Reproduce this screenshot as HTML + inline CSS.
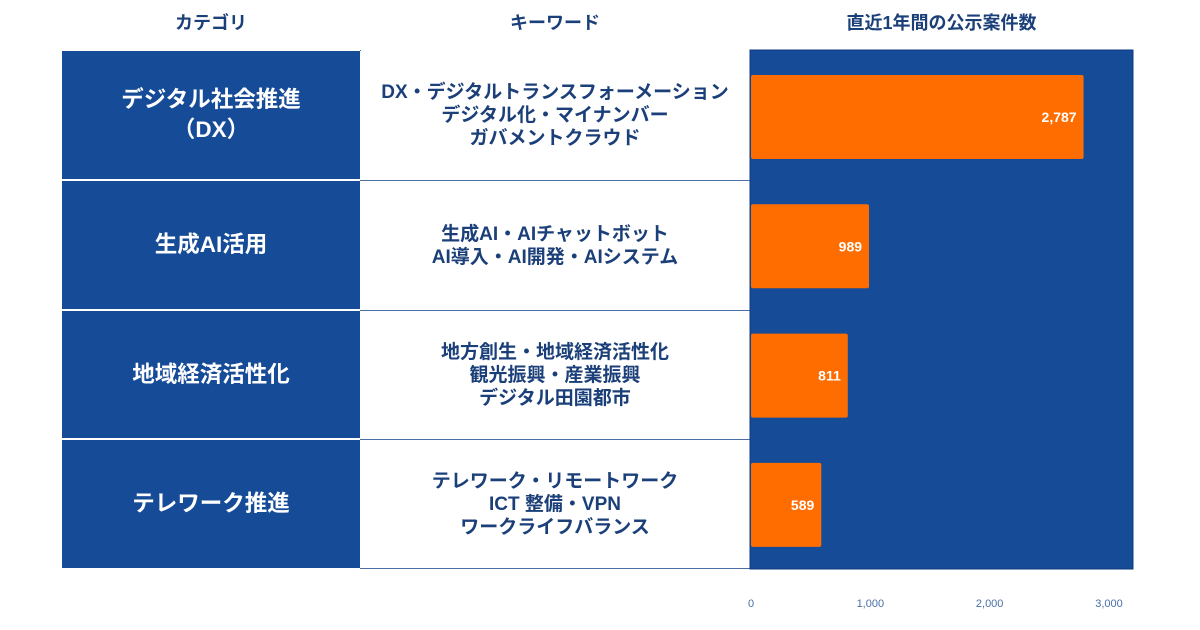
<!DOCTYPE html>
<html><head><meta charset="utf-8">
<style>
body{margin:0;width:1200px;height:630px;background:#fff;position:relative;overflow:hidden;font-family:"Liberation Sans","Noto Sans CJK JP",sans-serif;}
.abs{position:absolute;}
.hdr{top:10px;height:26px;font-size:18px;font-weight:bold;color:#1b3f78;text-align:center;line-height:26px;}
.cat{left:62px;width:298px;background:#164b97;color:#fff;font-weight:bold;font-size:22.5px;display:flex;align-items:center;justify-content:center;text-align:center;line-height:30px;}
.kw{left:360px;width:390px;background:#fff;color:#1b3f78;font-weight:bold;font-size:19px;display:flex;align-items:center;justify-content:center;text-align:center;line-height:23px;border-bottom:1px solid #4a6fa5;box-sizing:border-box;}
</style></head><body>
<div class="abs hdr" style="left:62px;width:298px">カテゴリ</div>
<div class="abs hdr" style="left:360px;width:390px">キーワード</div>
<div class="abs hdr" style="left:750px;width:383px">直近1年間の公示案件数</div>

<div class="abs cat" style="top:51px;height:128px">デジタル社会推進<br>（DX）</div>
<div class="abs cat" style="top:181px;height:128px">生成AI活用</div>
<div class="abs cat" style="top:311px;height:127px">地域経済活性化</div>
<div class="abs cat" style="top:440px;height:128px">テレワーク推進</div>

<div class="abs" style="left:360px;top:50px;width:390px;height:519px;border-left:1px solid #4a6fa5;box-sizing:border-box;"></div>
<div class="abs kw" style="top:51px;height:130px">DX・デジタルトランスフォーメーション<br>デジタル化・マイナンバー<br>ガバメントクラウド</div>
<div class="abs kw" style="top:181px;height:130px">生成AI・AIチャットボット<br>AI導入・AI開発・AIシステム</div>
<div class="abs kw" style="top:311px;height:129px">地方創生・地域経済活性化<br>観光振興・産業振興<br>デジタル田園都市</div>
<div class="abs kw" style="top:440px;height:129px">テレワーク・リモートワーク<br>ICT 整備・VPN<br>ワークライフバランス</div>

<svg class="abs" style="left:0;top:0" width="1200" height="630" id="chart">
<rect x="750" y="50" width="383" height="519" fill="#164b97" stroke="#0e3a80"/>
</svg>
<script>
const categories=["DX","AI","地域","テレワーク"];
const values=[2787,989,811,589];
const labels=["2,787","989","811","589"];
const ticks=[0,1000,2000,3000];
const tickLabels=["0","1,000","2,000","3,000"];
const svg=document.getElementById('chart');
const NS="http://www.w3.org/2000/svg";
const x=v=>751+v*(358/3000);
const rowTop=i=>75+i*129.3;
values.forEach((v,i)=>{
 const r=document.createElementNS(NS,'rect');
 r.setAttribute('x',751);r.setAttribute('y',rowTop(i));
 r.setAttribute('width',x(v)-751);r.setAttribute('height',84);
 r.setAttribute('rx',2);r.setAttribute('fill','#ff6d00');
 
 
 svg.appendChild(r);
 const t=document.createElementNS(NS,'text');
 t.setAttribute('x',x(v)-7);t.setAttribute('y',rowTop(i)+47);
 t.setAttribute('text-anchor','end');t.setAttribute('fill','#fff');
 t.setAttribute('font-size','14');t.setAttribute('font-weight','bold');
 t.setAttribute('font-family','"Liberation Sans",sans-serif');
 t.textContent=labels[i];
 
 
 svg.appendChild(t);
});
ticks.forEach((v,i)=>{
 const t=document.createElementNS(NS,'text');
 t.setAttribute('x',x(v));t.setAttribute('y',607);
 t.setAttribute('text-anchor','middle');t.setAttribute('fill','#4a6fa5');
 t.setAttribute('font-size','11');
 t.setAttribute('font-family','"Liberation Sans",sans-serif');
 t.textContent=tickLabels[i];
 
 
 svg.appendChild(t);
});
</script>
</body></html>
